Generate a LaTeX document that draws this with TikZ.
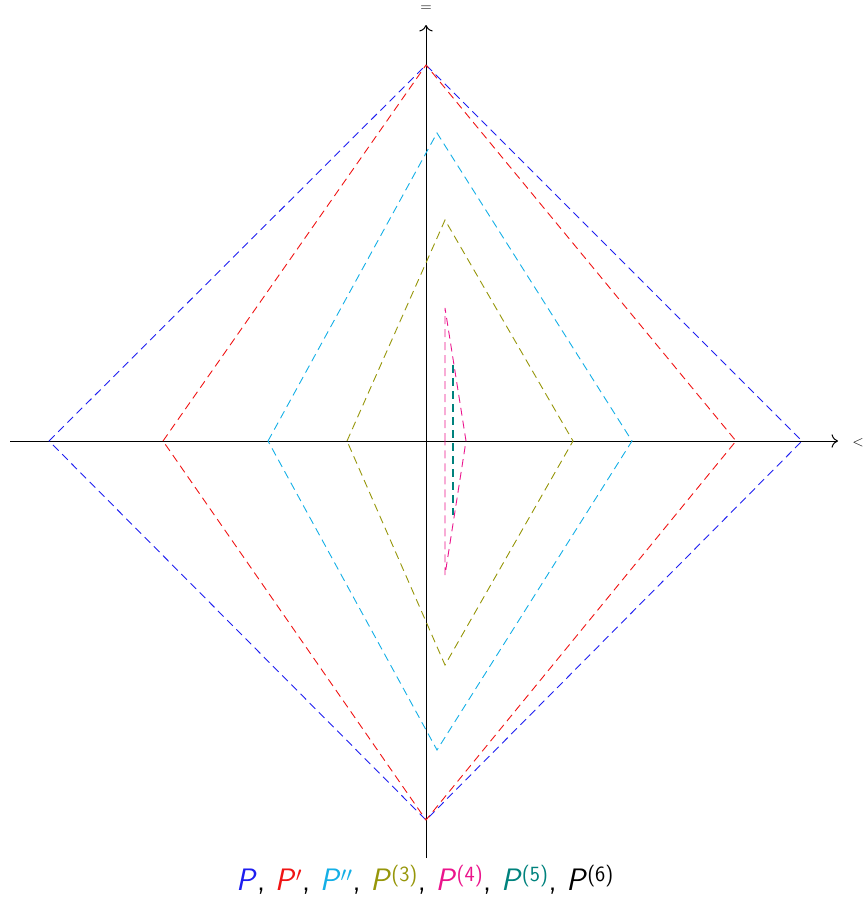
\documentclass[tikz,border=0pt]{standalone}
\usetikzlibrary{arrows.meta}
\definecolor{cblue}{RGB}{30,30,240}
\definecolor{cred}{RGB}{240,20,20}
\definecolor{ccyan}{RGB}{20,175,230}
\definecolor{colive}{RGB}{150,150,10}
\definecolor{cpink}{RGB}{235,20,140}
\definecolor{cteal}{RGB}{0,130,125}
\newcommand{\supsf}[1]{\textsuperscript{\upshape #1}}
\tikzset{
  poly/.style={dash pattern=on 8pt off 5pt, line width=0.9pt},
  axis/.style={-{Computer Modern Rightarrow[scale=1.7]}, line width=1pt},
  lbl/.style={inner sep=0pt, font=\fontsize{15}{16}\selectfont\sffamily},
}
\begin{document}
\begin{tikzpicture}[x=1pt,y=-1pt]
\useasboundingbox (0,0) rectangle (863,897);
% axes
\coordinate (xs) at (10,441);
\coordinate (xe) at (838,441);
\coordinate (ys) at (426,858);
\coordinate (ye) at (426,25);
\draw[axis] (xs) -- (xe);
\draw[axis] (ys) -- (ye);
\node[lbl] (xl) at (858,443) {<};
\node[lbl] (yl) at (426,9) {=};
% blue P
\coordinate (b1) at (49,441);
\coordinate (b2) at (426,65);
\coordinate (b3) at (802,441);
\coordinate (b4) at (426,820);
\draw[poly,cblue] (b1) -- (b2) -- (b3) -- (b4) -- cycle;
% red P'
\coordinate (r1) at (163,441);
\coordinate (r2) at (426,65);
\coordinate (r3) at (736,441);
\coordinate (r4) at (426,820);
\draw[poly,cred] (r1) -- (r2) -- (r3) -- (r4) -- cycle;
% cyan P''
\coordinate (c1) at (268,441);
\coordinate (c2) at (437,133);
\coordinate (c3) at (632,441);
\coordinate (c4) at (437,750);
\draw[poly,ccyan] (c1) -- (c2) -- (c3) -- (c4) -- cycle;
% olive P3
\coordinate (o1) at (347,441);
\coordinate (o2) at (445,220);
\coordinate (o3) at (573,441);
\coordinate (o4) at (445,665);
\draw[poly,colive] (o1) -- (o2) -- (o3) -- (o4) -- cycle;
% pink P4
\coordinate (p1) at (445,441);
\coordinate (p2) at (445,308);
\coordinate (p3) at (466,441);
\coordinate (p4) at (445,575);
\draw[poly,cpink] (p1) -- (p2) -- (p3) -- (p4) -- cycle;
% teal P5
\coordinate (t1) at (453,365);
\coordinate (t2) at (453,515);
\draw[poly,cteal,line width=2pt] (t1) -- (t2);
% legend
\node[inner sep=0pt, font=\fontsize{31}{34}\selectfont\sffamily] (leg) at (425,880)
 {\textcolor{cblue}{\textit{P}}, \textcolor{cred}{\textit{P}\supsf{$\prime$}}, \textcolor{ccyan}{\textit{P}\supsf{$\prime\prime$}}, \textcolor{colive}{\textit{P}\supsf{(3)}}, \textcolor{cpink}{\textit{P}\supsf{(4)}}, \textcolor{cteal}{\textit{P}\supsf{(5)}}, \textit{P}\supsf{(6)}};
\end{tikzpicture}
\end{document}
